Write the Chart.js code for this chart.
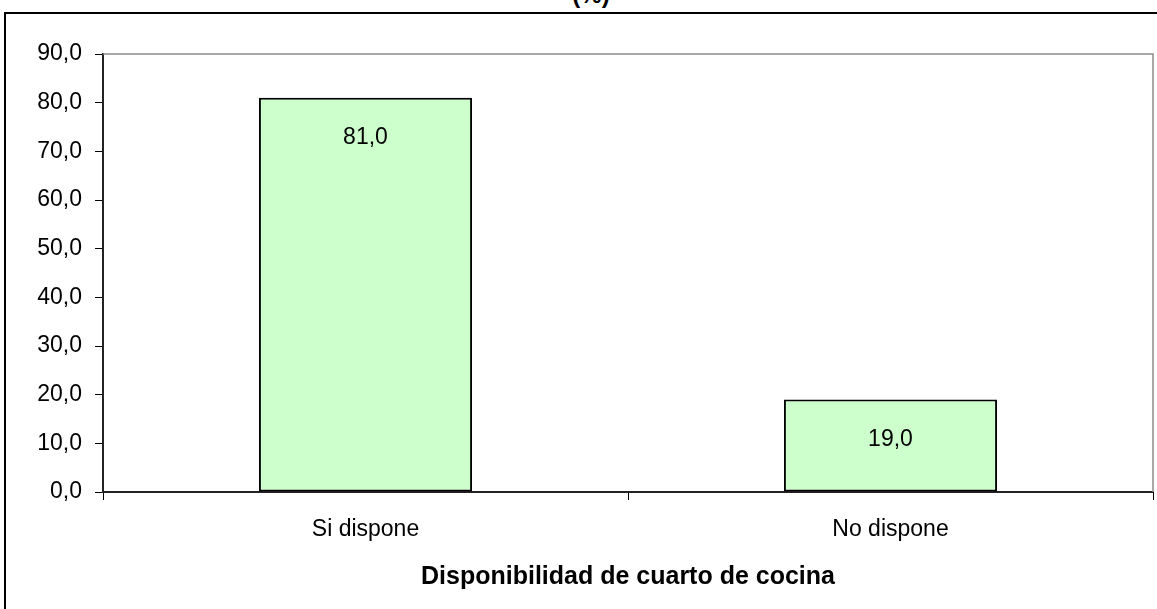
<!DOCTYPE html>
<html>
<head>
<meta charset="utf-8">
<script src="https://cdn.jsdelivr.net/npm/chart.js@4"></script>
<style>
  html, body { margin: 0; padding: 0; background: #fff; overflow: hidden; }
  #wrap { position: relative; width: 1157px; height: 609px; overflow: hidden; }
  #frame { position: absolute; left: 4px; top: 12px; width: 1200px; height: 700px; border: 2.5px solid #000; box-sizing: border-box; }
  #title { position: absolute; left: 0; top: -19px; width: 1182px; text-align: center; line-height: 24px;
           font: bold 24px "Liberation Sans", Arial, sans-serif; color: #000; }
  canvas { position: absolute; left: 0; top: 0; }
</style>
</head>
<body>
<div id="wrap">
  <div id="frame"></div>
  <div id="title">(%)</div>
  <canvas id="chart" width="1157" height="609"></canvas>
</div>
<script>
const categories = ["Si dispone", "No dispone"];
const values = [81.0, 19.0];
const yMin = 0;
const yMax = 90;
const yStep = 10;
const xTitle = "Disponibilidad de cuarto de cocina";

const fmt = v => Number(v).toFixed(1).replace(".", ",");
const FONT = "'Liberation Sans', Arial, sans-serif";

// grey frame on top and right of the plot area
const plotFrame = {
  id: "plotFrame",
  beforeDatasetsDraw(chart) {
    const { ctx, chartArea: a } = chart;
    ctx.save();
    ctx.strokeStyle = "#8c8c8c";
    ctx.lineWidth = 1.5;
    ctx.beginPath();
    ctx.moveTo(a.left, a.top);
    ctx.lineTo(a.right, a.top);
    ctx.lineTo(a.right, a.bottom);
    ctx.stroke();
    ctx.restore();
  }
};

// value labels just inside the top of each bar
const barLabels = {
  id: "barLabels",
  afterDatasetsDraw(chart) {
    const { ctx } = chart;
    const meta = chart.getDatasetMeta(0);
    ctx.save();
    ctx.fillStyle = "#000";
    ctx.font = "23px " + FONT;
    ctx.textAlign = "center";
    ctx.textBaseline = "middle";
    meta.data.forEach((bar, i) => {
      ctx.fillText(fmt(values[i]), bar.x, bar.y + 40);
    });
    ctx.restore();
  }
};

new Chart(document.getElementById("chart"), {
  type: "bar",
  data: {
    labels: categories,
    datasets: [{
      data: values,
      backgroundColor: "#ccffcc",
      borderColor: "#000",
      borderWidth: 2,
      borderSkipped: false,
      categoryPercentage: 1,
      barPercentage: 0.406
    }]
  },
  options: {
    responsive: false,
    animation: false,
    layout: { padding: { left: 0, top: 54, right: 4, bottom: 0 } },
    plugins: { legend: { display: false }, tooltip: { enabled: false } },
    scales: {
      x: {
        afterFit: s => { s.height = 117; },
        grid: { offset: true, drawOnChartArea: false, drawTicks: true, tickLength: 8, color: "#000", lineWidth: 1 },
        border: { display: true, color: "#222", width: 2 },
        ticks: { color: "#000", padding: 16, font: { family: FONT, size: 23 } },
        title: { display: true, text: xTitle, color: "#000", padding: { top: 0, bottom: 17 },
                 font: { family: FONT, size: 25, weight: "bold" } }
      },
      y: {
        min: yMin,
        max: yMax,
        afterFit: s => { s.width = 103; },
        grid: { drawOnChartArea: false, drawTicks: true, tickLength: 8, color: "#000", lineWidth: 1 },
        border: { display: true, color: "#222", width: 2 },
        ticks: { stepSize: yStep, color: "#000", padding: 13, font: { family: FONT, size: 23 },
                 callback: v => fmt(v) }
      }
    }
  },
  plugins: [plotFrame, barLabels]
});
</script>
</body>
</html>
